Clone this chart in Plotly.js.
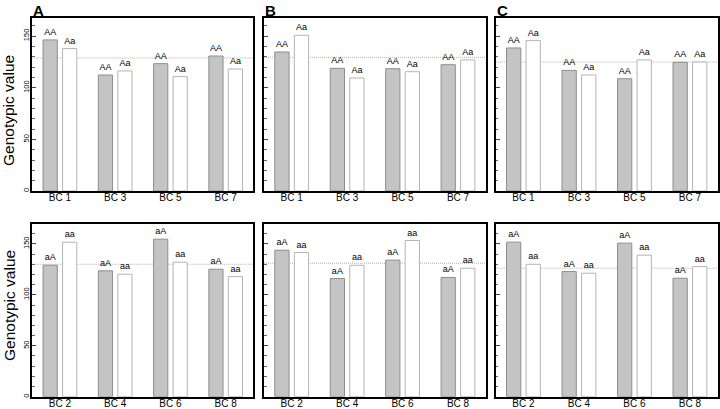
<!DOCTYPE html>
<html><head><meta charset="utf-8">
<script src="https://cdn.plot.ly/plotly-3.0.1.min.js"></script>
<style>html,body{margin:0;padding:0;background:#fff}#chart{width:720px;height:409px}</style>
</head><body><div id="chart"></div>
<script>
// ---- data ----
var categoriesTop = ['BC 1', 'BC 3', 'BC 5', 'BC 7'];
var categoriesBottom = ['BC 2', 'BC 4', 'BC 6', 'BC 8'];
var panelLetters = ['A', 'B', 'C'];
var labelsTopGray = ['AA', 'AA', 'AA', 'AA'];
var labelsTopWhite = ['Aa', 'Aa', 'Aa', 'Aa'];
var labelsBottomGray = ['aA', 'aA', 'aA', 'aA'];
var labelsBottomWhite = ['aa', 'aa', 'aa', 'aa'];

var grayTopA = [146.3, 112.3, 123.3, 130.7];
var whiteTopA = [137.9, 116.2, 110.7, 118.1];
var grayTopB = [134.6, 118.8, 118.4, 122.3];
var whiteTopB = [150.8, 109.4, 115.5, 126.9];
var grayTopC = [138.5, 116.8, 108.7, 124.6];
var whiteTopC = [145.6, 112.3, 126.9, 124.9];

var grayBottomA = [129.0, 123.5, 154.6, 125.1];
var whiteBottomA = [151.6, 120.2, 132.0, 117.9];
var grayBottomB = [143.8, 116.0, 134.0, 117.0];
var whiteBottomB = [141.5, 129.0, 153.3, 126.1];
var grayBottomC = [151.7, 122.8, 150.7, 116.3];
var whiteBottomC = [130.0, 121.2, 138.9, 127.7];

var meanTop = [128.8, 129.4, 124.9];
var meanBottom = [130.0, 131.0, 126.1];

// ---- layout helpers ----
var W = 720, H = 409;
var colsPx = [[32.3, 253.3], [264, 485.7], [495.7, 717.7]];
var rowsPx = [[18, 191], [224, 396.7]];
var rowRanges = [[0, 167.5], [0, 169.5]];

var panels = [
  {row: 0, col: 0, cats: categoriesTop, g: grayTopA, w: whiteTopA, gl: labelsTopGray, wl: labelsTopWhite, mean: meanTop[0]},
  {row: 0, col: 1, cats: categoriesTop, g: grayTopB, w: whiteTopB, gl: labelsTopGray, wl: labelsTopWhite, mean: meanTop[1]},
  {row: 0, col: 2, cats: categoriesTop, g: grayTopC, w: whiteTopC, gl: labelsTopGray, wl: labelsTopWhite, mean: meanTop[2]},
  {row: 1, col: 0, cats: categoriesBottom, g: grayBottomA, w: whiteBottomA, gl: labelsBottomGray, wl: labelsBottomWhite, mean: meanBottom[0]},
  {row: 1, col: 1, cats: categoriesBottom, g: grayBottomB, w: whiteBottomB, gl: labelsBottomGray, wl: labelsBottomWhite, mean: meanBottom[1]},
  {row: 1, col: 2, cats: categoriesBottom, g: grayBottomC, w: whiteBottomC, gl: labelsBottomGray, wl: labelsBottomWhite, mean: meanBottom[2]}
];

var FONT = 'Liberation Sans, Arial, sans-serif';
var data = [];
var layout = {
  width: W, height: H,
  margin: {l: 0, r: 0, t: 0, b: 0},
  paper_bgcolor: '#fff', plot_bgcolor: '#fff',
  showlegend: false,
  barmode: 'group',
  bargap: 0.295,
  bargroupgap: 0.27,
  font: {family: FONT, color: '#000'},
  shapes: [],
  annotations: []
};

panels.forEach(function (p, i) {
  var n = i + 1;
  var xa = 'x' + (n === 1 ? '' : n), ya = 'y' + (n === 1 ? '' : n);
  var xk = 'xaxis' + (n === 1 ? '' : n), yk = 'yaxis' + (n === 1 ? '' : n);
  var textCommon = {textposition: 'outside', cliponaxis: false, constraintext: 'none',
    outsidetextfont: {family: FONT, size: 9, color: '#000'}, hoverinfo: 'skip'};
  data.push(Object.assign({
    type: 'bar', x: p.cats, y: p.g, text: p.gl, xaxis: xa, yaxis: ya,
    marker: {color: '#c4c4c4', line: {color: '#8e8e8e', width: 1}}
  }, textCommon));
  data.push(Object.assign({
    type: 'bar', x: p.cats, y: p.w, text: p.wl, xaxis: xa, yaxis: ya,
    marker: {color: '#ffffff', line: {color: '#b4b4b4', width: 1}}
  }, textCommon));

  var cx = colsPx[p.col], ry = rowsPx[p.row];
  layout[xk] = {
    domain: [cx[0] / W, cx[1] / W],
    anchor: ya,
    type: 'category',
    range: [-0.5, 3.5],
    showline: true, mirror: true, linecolor: '#000', linewidth: 2,
    ticks: '', showgrid: false, zeroline: false,
    tickfont: {family: FONT, size: 10, color: '#000'},
    ticklabelstandoff: -4,
    fixedrange: true
  };
  layout[yk] = {
    domain: [1 - ry[1] / H, 1 - ry[0] / H],
    anchor: xa,
    range: rowRanges[p.row],
    showline: true, mirror: true, linecolor: '#000', linewidth: 2,
    tickvals: [0, 50, 100, 150],
    ticks: 'inside', ticklen: 4, tickcolor: '#444', tickwidth: 1,
    minor: {tickvals: [10, 20, 30, 40, 60, 70, 80, 90, 110, 120, 130, 140, 160], ticks: 'inside', ticklen: 2.5, tickcolor: '#666', tickwidth: 1},
    showticklabels: p.col === 0,
    tickangle: -90,
    tickfont: {family: FONT, size: 7.5, color: '#000'},
    ticklabelstandoff: -2,
    showgrid: false, zeroline: false,
    fixedrange: true
  };
  layout.shapes.push({
    type: 'line', xref: xa + ' domain', yref: ya,
    x0: 0, x1: 1, y0: p.mean, y1: p.mean,
    line: {color: '#a0a0a0', width: 0.8, dash: '1px,1px'}, layer: 'below'
  });
});

// panel letters
panelLetters.forEach(function (L, c) {
  layout.annotations.push({
    text: '<b>' + L + '</b>', xref: 'paper', yref: 'paper',
    x: (colsPx[c][0] - 1) / W, y: 1 - 11 / H, xanchor: 'left', yanchor: 'middle',
    showarrow: false, font: {family: FONT, size: 15, color: '#000'}
  });
});
// y titles
[111, 306].forEach(function (yc) {
  layout.annotations.push({
    text: 'Genotypic value', xref: 'paper', yref: 'paper',
    x: 9 / W, y: 1 - yc / H, xanchor: 'center', yanchor: 'middle',
    textangle: -90, showarrow: false, font: {family: FONT, size: 15.5, color: '#000'}
  });
});

Plotly.newPlot('chart', data, layout, {displayModeBar: false, staticPlot: true});
</script></body></html>
